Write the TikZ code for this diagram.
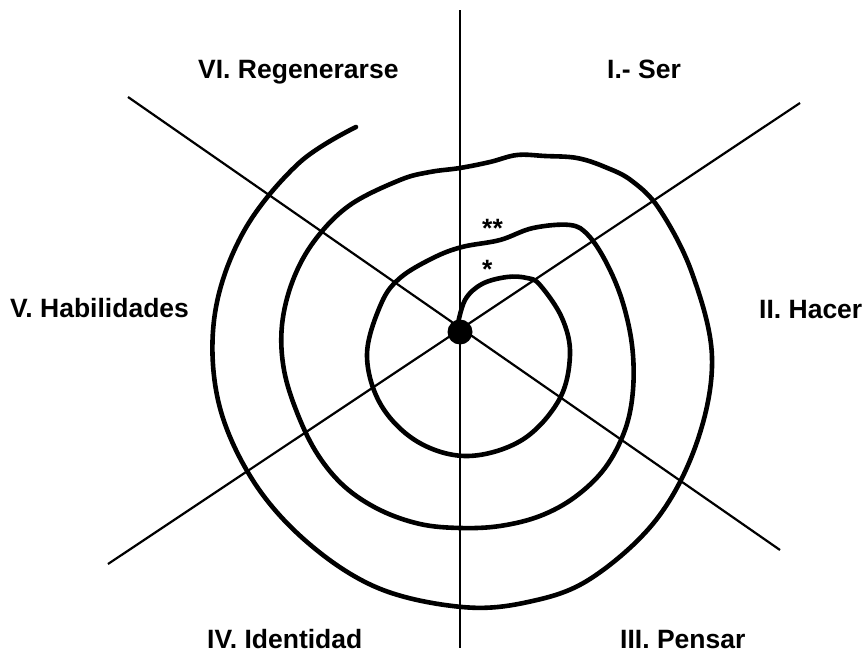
\documentclass[tikz,border=0pt]{standalone}
\usepackage{fontspec}
\setmainfont{Liberation Sans}
\begin{document}
\begin{tikzpicture}[x=1pt,y=-1pt,
  lbl/.style={inner sep=0pt,anchor=base west,font=\bfseries\fontsize{26.5}{30}\selectfont},
  axis/.style={line width=2.2pt},
  ring/.style={line width=4.6pt,line cap=round,line join=round}]
\useasboundingbox (0,0) rectangle (863,653);
% axes
\coordinate (vtop) at (460,10);
\coordinate (vbot) at (460,648);
\coordinate (d1a) at (128,97);
\coordinate (d1b) at (780,550);
\coordinate (d2a) at (108,564);
\coordinate (d2b) at (800,103);
\draw[axis] (vtop) -- (vbot);
\draw[axis] (d1a) -- (d1b);
\draw[axis] (d2a) -- (d2b);
% spiral
\draw[ring] plot[smooth,tension=0.6] coordinates {
 (457,328) (465,300) (482,284) (507,277) (527,278) (540,285)
 (562,318) (570,355) (559,400) (522,440) (468,456) (418,442) (381,405)
 (367,355) (381,304) (400,278) (433,258) (462,247) (500,240) (533,228)
 (570,225) (588,235) (606,262) (622,300) (632,345) (633,390) (625,430)
 (605,468) (575,497) (540,516) (500,526) (460,528) (420,524) (380,510)
 (345,487) (318,455) (298,415) (284,370) (282,325) (293,280) (315,240)
 (350,205) (400,180) (430,172) (460,168) (490,162) (517,155) (545,156)
 (577,158) (605,167) (632,181) (660,210) (692,273) (712,357) (697,442)
 (656,520) (590,579) (528,602) (462,607) (378,588) (307,542) (252,479)
 (218,400) (215,313) (244,231) (299,163) (356,127)};
% centre dot
\fill (460,332) circle[radius=12.5pt];
% labels
\node[lbl] (ser) at (607,78) {I.- Ser};
\node[lbl] (regen) at (198,78) {VI. Regenerarse};
\node[lbl] (hab) at (10,317) {V. Habilidades};
\node[lbl] (hacer) at (759,318) {II. Hacer};
\node[lbl] (ident) at (207,648) {IV. Identidad};
\node[lbl] (pensar) at (620,648) {III. Pensar};
\node[lbl] (ast2) at (482,237) {**};
\node[lbl] (ast1) at (482,278) {*};
\end{tikzpicture}
\end{document}
